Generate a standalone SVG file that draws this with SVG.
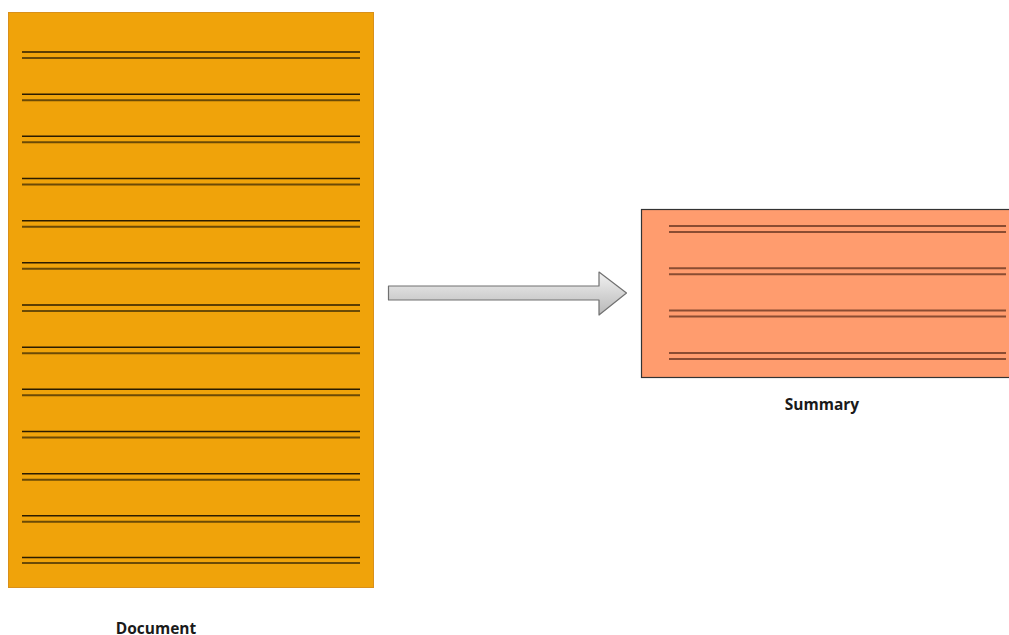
<svg xmlns="http://www.w3.org/2000/svg" width="1009" height="635" viewBox="0 0 1009 635">
<defs>
<linearGradient id="arrowGrad" x1="0" y1="0" x2="0" y2="1">
<stop offset="0" stop-color="#f2f2f2"/>
<stop offset="1" stop-color="#b8b8b8"/>
</linearGradient>
<style>
.doc-line1{stroke:#2b1c00;stroke-width:1.6;}
.doc-line2{stroke:#6b4a06;stroke-width:2;}
.sum-line{stroke:#8a4c32;stroke-width:2;}
.label{font-family:"Open Sans","Liberation Sans",sans-serif;font-weight:bold;font-size:15.5px;fill:#1a1a1a;text-anchor:middle;}
</style>
</defs>
<rect width="1009" height="635" fill="#ffffff"/>
<g id="document">
<rect x="8.5" y="12.5" width="365" height="575" fill="#f0a30a" stroke="#d9901a" stroke-width="1"/>
<g>
<line class="doc-line1" x1="22" y1="52" x2="360" y2="52"/><line class="doc-line2" x1="22" y1="58" x2="360" y2="58"/>
<line class="doc-line1" x1="22" y1="94.2" x2="360" y2="94.2"/><line class="doc-line2" x1="22" y1="100.2" x2="360" y2="100.2"/>
<line class="doc-line1" x1="22" y1="136.3" x2="360" y2="136.3"/><line class="doc-line2" x1="22" y1="142.3" x2="360" y2="142.3"/>
<line class="doc-line1" x1="22" y1="178.5" x2="360" y2="178.5"/><line class="doc-line2" x1="22" y1="184.5" x2="360" y2="184.5"/>
<line class="doc-line1" x1="22" y1="220.7" x2="360" y2="220.7"/><line class="doc-line2" x1="22" y1="226.7" x2="360" y2="226.7"/>
<line class="doc-line1" x1="22" y1="262.8" x2="360" y2="262.8"/><line class="doc-line2" x1="22" y1="268.8" x2="360" y2="268.8"/>
<line class="doc-line1" x1="22" y1="305" x2="360" y2="305"/><line class="doc-line2" x1="22" y1="311" x2="360" y2="311"/>
<line class="doc-line1" x1="22" y1="347.2" x2="360" y2="347.2"/><line class="doc-line2" x1="22" y1="353.2" x2="360" y2="353.2"/>
<line class="doc-line1" x1="22" y1="389.3" x2="360" y2="389.3"/><line class="doc-line2" x1="22" y1="395.3" x2="360" y2="395.3"/>
<line class="doc-line1" x1="22" y1="431.5" x2="360" y2="431.5"/><line class="doc-line2" x1="22" y1="437.5" x2="360" y2="437.5"/>
<line class="doc-line1" x1="22" y1="473.7" x2="360" y2="473.7"/><line class="doc-line2" x1="22" y1="479.7" x2="360" y2="479.7"/>
<line class="doc-line1" x1="22" y1="515.8" x2="360" y2="515.8"/><line class="doc-line2" x1="22" y1="521.8" x2="360" y2="521.8"/>
<line class="doc-line1" x1="22" y1="557.5" x2="360" y2="557.5"/><line class="doc-line2" x1="22" y1="563" x2="360" y2="563"/>
</g>
<text class="label" x="156" y="633.5">Document</text>
</g>
<g id="summary">
<rect x="641.5" y="209.5" width="370" height="168" fill="#ff9c6e" stroke="#333333" stroke-width="1.2"/>
<line class="sum-line" x1="669" y1="226" x2="1006" y2="226"/><line class="sum-line" x1="669" y1="232" x2="1006" y2="232"/>
<line class="sum-line" x1="669" y1="268.3" x2="1006" y2="268.3"/><line class="sum-line" x1="669" y1="274.3" x2="1006" y2="274.3"/>
<line class="sum-line" x1="669" y1="310.6" x2="1006" y2="310.6"/><line class="sum-line" x1="669" y1="316.6" x2="1006" y2="316.6"/>
<line class="sum-line" x1="669" y1="353" x2="1006" y2="353"/><line class="sum-line" x1="669" y1="359" x2="1006" y2="359"/>
<text class="label" x="822" y="410">Summary</text>
</g>
<g id="connectors">
<path d="M388.5,286 L599,286 L599,272 L626.5,293 L599,315 L599,300 L388.5,300 Z" fill="url(#arrowGrad)" stroke="#707070" stroke-width="1.2" stroke-linejoin="round"/>
</g>
</svg>
